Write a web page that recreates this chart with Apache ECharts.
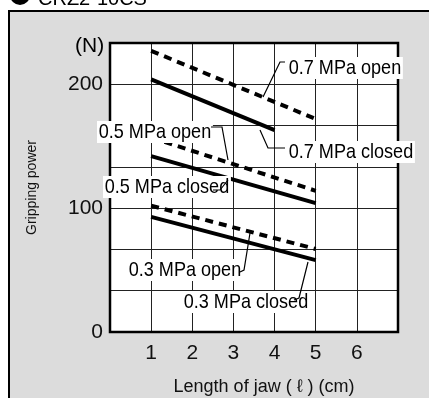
<!DOCTYPE html>
<html>
<head>
<meta charset="utf-8">
<script src="https://cdn.jsdelivr.net/npm/echarts@6/dist/echarts.min.js"></script>
<style>
  html, body { margin: 0; padding: 0; background: #fff; }
  #wrap { position: relative; width: 429px; height: 398px; overflow: hidden; }
  #panel { position: absolute; left: 8px; top: 10px; width: 440px; height: 420px;
           background: #dcdcdc; border: 2px solid #000; box-sizing: border-box; }
  #chart { position: absolute; left: 0; top: 0; width: 429px; height: 398px; }
</style>
</head>
<body>
<div id="wrap"><div id="panel"></div><div id="chart"></div></div>
<script>
// ---- data ----
const xTicks = [1, 2, 3, 4, 5, 6];
const yTickLabels = [0, 100, 200];
const seriesNames = ['0.7 MPa open', '0.7 MPa closed', '0.5 MPa open', '0.5 MPa closed', '0.3 MPa open', '0.3 MPa closed'];
const open07X = [1, 5],   open07Y = [227, 172];
const closed07X = [1, 4], closed07Y = [204, 163];
const open05X = [1, 5],   open05Y = [157, 114];
const closed05X = [1, 5], closed05Y = [142, 104];
const open03X = [1, 5],   open03Y = [102, 67];
const closed03X = [1, 5], closed03Y = [93, 58];

const xs = [open07X, closed07X, open05X, closed05X, open03X, closed03X];
const ys = [open07Y, closed07Y, open05Y, closed05Y, open03Y, closed03Y];
const dashed = [true, false, true, false, true, false];

const FONT = '"Liberation Sans", Arial, Helvetica, sans-serif';

const series = seriesNames.map((name, i) => ({
  name: name,
  type: 'line',
  symbol: 'none',
  silent: true,
  data: xs[i].map((x, k) => [x, ys[i][k]]),
  lineStyle: { color: '#000', width: 4, type: dashed[i] ? [8, 6] : 'solid', cap: 'butt' },
  z: 5
}));

// annotation labels (text placement + leader lines)
function label(text, left, cy, leader) {
  return [
    {
      type: 'text', x: left, y: cy, scaleX: 0.86, z: 20,
      style: { text: text, font: '21px ' + FONT, fill: '#000',
               verticalAlign: 'middle', align: 'left',
               backgroundColor: '#fff', padding: [1, 2, 0, 2] }
    },
    {
      type: 'polyline', z: 21,
      shape: { points: leader },
      style: { stroke: '#000', lineWidth: 1.2, fill: null }
    }
  ];
}

const graphics = [].concat(
  // cut-off heading at the very top
  [{ type: 'circle', shape: { cx: 20, cy: -5, r: 10 }, style: { fill: '#000' }, z: 20 },
   { type: 'text', x: 38, y: 9, z: 20,
     style: { text: 'CRZ2-10CS', font: '20px ' + FONT, fill: '#000', verticalAlign: 'bottom' } },
   { type: 'text', x: 75, y: 46, z: 20,
     style: { text: '(N)', font: '21px ' + FONT, fill: '#000', verticalAlign: 'middle' } }],
  label(seriesNames[0], 287, 68, [[285, 62], [280, 62], [263, 97]]),
  label(seriesNames[1], 287, 152, [[285, 148], [268, 148], [260, 130]]),
  label(seriesNames[2], 97, 132, [[211, 127], [222, 127], [228, 160]]),
  label(seriesNames[3], 103, 187, [[213, 190], [220, 190], [228, 180]]),
  label(seriesNames[4], 127, 270, [[240, 272], [244, 270], [250, 233]]),
  label(seriesNames[5], 182, 302, [[294, 300], [299, 298], [308, 262]])
);

const chart = echarts.init(document.getElementById('chart'), null, { renderer: 'canvas' });
chart.setOption({
  animation: false,
  backgroundColor: 'transparent',
  grid: { left: 110, top: 43, width: 288, height: 289, show: true, containLabel: false,
          outerBoundsMode: 'none',
          backgroundColor: '#fff', borderColor: 'transparent', borderWidth: 0, z: 0 },
  xAxis: [{
    type: 'value', min: 0, max: 7, interval: 1, z: 2,
    axisLine: { show: false }, axisTick: { show: false },
    splitLine: { show: true, lineStyle: { color: '#222', width: 1 } },
    axisLabel: { margin: 11, color: '#111', fontSize: 21, fontFamily: FONT,
                 formatter: v => xTicks.includes(v) ? String(v) : '' },
    name: 'Length of jaw ( ℓ ) (cm)', nameLocation: 'middle', nameGap: 46,
    nameTextStyle: { color: '#111', fontSize: 18, fontFamily: FONT, padding: [0, 0, 0, 20] }
  }],
  yAxis: [{
    type: 'value', min: 0, max: 700 / 3, interval: 100 / 3, z: 2,
    axisLine: { show: false }, axisTick: { show: false },
    splitLine: { show: true, lineStyle: { color: '#222', width: 1 } },
    axisLabel: { margin: 7, color: '#111', fontSize: 21, fontFamily: FONT,
                 formatter: v => { const r = Math.round(v);
                   return (Math.abs(v - r) < 1e-6 && yTickLabels.includes(r)) ? String(r) : ''; } },
    name: 'Gripping power', nameLocation: 'middle', nameGap: 71, nameRotate: 90,
    nameTextStyle: { color: '#111', fontSize: 14, fontFamily: FONT }
  }],
  series: series,
  graphic: graphics
});
// plot frame drawn on the grid's own rectangle
const gr = chart.getModel().getComponent('grid').coordinateSystem.getRect();
chart.setOption({ graphic: graphics.concat([{
  type: 'rect', z: 4, shape: { x: gr.x, y: gr.y, width: gr.width, height: gr.height },
  style: { fill: null, stroke: '#000', lineWidth: 2.5 } }]) });
</script>
</body>
</html>
